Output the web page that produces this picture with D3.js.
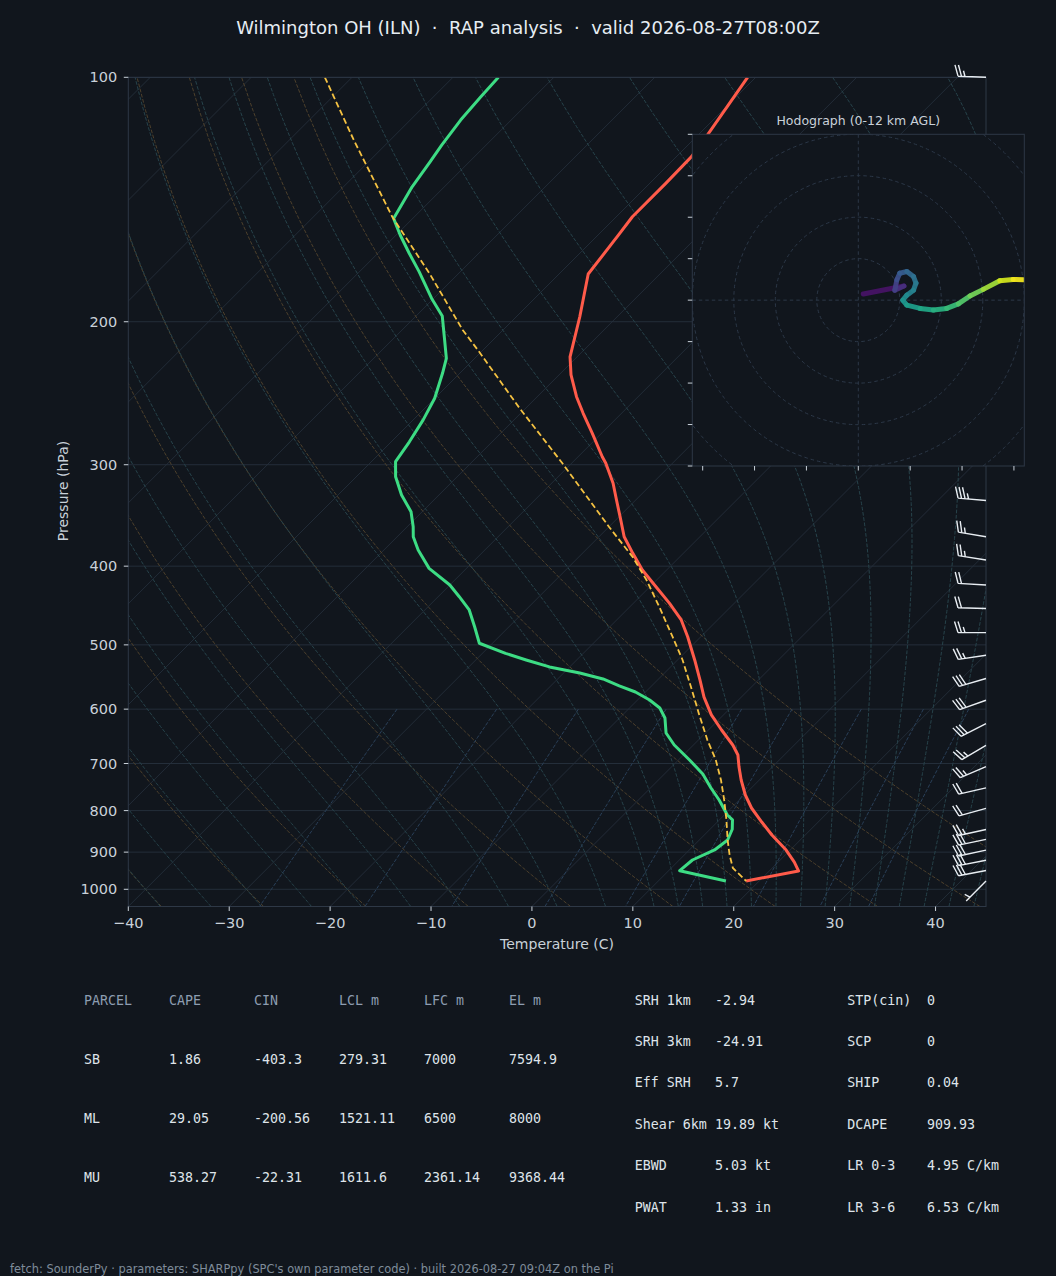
<!DOCTYPE html>
<html><head><meta charset="utf-8">
<script src="https://cdn.jsdelivr.net/npm/d3@7"></script>
<style>
html,body{margin:0;padding:0;background:#11161d;}
svg{display:block;}
text{font-family:"DejaVu Sans",sans-serif;}
.mono{font-family:"DejaVu Sans Mono",monospace;}
</style></head><body>
<svg id="chart" width="1056" height="1276"></svg>
<script>
// ---------------- DATA ----------------
const titleText = "Wilmington OH (ILN)  ·  RAP analysis  ·  valid 2026-08-27T08:00Z";
const footerText = "fetch: SounderPy · parameters: SHARPpy (SPC's own parameter code) · built 2026-08-27 09:04Z on the Pi";

const yTicks = [100,200,300,400,500,600,700,800,900,1000];
const xTicks = [-40,-30,-20,-10,0,10,20,30,40];

const tempP = [100,117.4,125.3,135.1,148.5,155.7,174.7,197.2,220.9,232.6,247.4,259.3,274.5,293.3,298.8,316.2,331.6,347.6,368.0,385.7,404.4,424.0,444.5,465.9,488.6,521.9,552.3,579.8,609.9,636.5,664.2,683.3,707.0,733.5,765.4,794.1,826.3,857.4,894.7,925.7,949.4,976.8];
const tempT = [-60.8,-59.1,-58.5,-58.4,-58.4,-58.0,-57.1,-53.7,-50.7,-48.8,-46.1,-43.8,-40.9,-37.6,-36.6,-33.9,-31.9,-29.9,-27.5,-25.0,-22.4,-19.4,-16.4,-13.6,-11.3,-8.3,-5.8,-3.7,-1.2,1.3,3.9,5.4,6.7,8.2,10.1,12.0,14.4,16.7,19.6,21.6,22.9,18.7];

const dewP = [100,105.7,112.9,121.2,127.0,136.4,149.2,156.4,164.7,173.5,187.2,196.8,210.6,221.9,231.5,248.5,264.2,281.1,297.4,310.4,326.9,342.8,357.7,368.0,382.1,402.5,421.9,436.2,452.9,475.0,497.7,512.2,521.9,532.3,541.5,550.8,561.8,571.5,584.6,598.0,615.2,642.0,664.2,693.0,721.1,750.3,776.3,810.1,821.5,843.5,869.5,894.5,920.3,948.7,976.8];
const dewT = [-85.5,-85.3,-85.0,-84.4,-83.9,-83.2,-81.9,-79.6,-76.9,-74.1,-70.2,-67.4,-64.8,-62.8,-61.7,-60.0,-59.0,-58.2,-57.6,-56.1,-53.7,-51.1,-49.4,-48.4,-46.6,-43.7,-40.0,-37.9,-35.6,-33.4,-31.3,-27.7,-25.0,-22.0,-18.4,-15.5,-13.2,-11.0,-8.8,-7.0,-5.5,-3.9,-1.9,1.1,3.8,6.0,8.0,10.3,11.3,12.2,12.8,12.5,11.3,11.1,16.7];

const parcelP = [100,119.5,148.5,175.0,204.7,217.8,255.6,298.8,357.7,389.4,416.0,448.7,488.6,521.9,568.3,609.9,655.0,693.0,733.5,776.3,821.5,869.5,907.6,941.4,976.8];
const parcelT = [-102.7,-93.6,-82.2,-72.7,-64.0,-60.2,-50.6,-40.9,-30.0,-24.7,-21.0,-17.1,-12.8,-9.5,-5.6,-2.4,0.9,3.7,6.2,8.5,10.7,12.8,14.5,16.1,18.7];

// wind barbs (kt)
const barbP = [100,332,368,393,422,451,483,515,550,585,625,665,706,750,795,844,868,895,921,948,977];
const barbU = [25,34.9,24.7,24.7,20.0,20.0,25.0,24.7,28.8,28.2,26.7,21.6,22.9,19.5,19.3,24.4,29.3,29.3,29.4,29.4,3.5];
const barbV = [-1,-2.9,-4.1,-3.9,-1.2,-0.5,0,3.7,8.5,10.1,13.6,12.7,10.0,4.5,5.3,5.4,6.2,6.2,5.7,5.7,3.5];

// hodograph (kt, height km AGL)
const hodoU = [1.2,11.0,8.8,9.3,10.0,11.7,13.3,13.9,13.3,11.7,10.7,11.7,14.9,18.1,21.3,24.1,26.9,30.1,34.1,37.3,39.8];
const hodoV = [1.5,3.4,2.4,4.9,6.5,6.9,5.7,4.1,2.4,1.2,0.0,-1.2,-2.0,-2.4,-2.0,-0.9,1.0,2.6,4.7,5.0,4.9];
const hodoH = [0,1.2,2.0,2.6,3.2,3.7,4.2,4.7,5.0,5.5,6.0,6.4,6.8,7.3,7.8,8.4,9.1,9.8,10.8,11.5,12.0];
const hodoRings = [10,20,30,40,50,60];
const hodoXTicks = [-37.5,-25,-12.5,0,12.5,25,37.5];
const hodoYTicks = [-40,-30,-20,-10,0,10,20,30,40];

// parameter tables
const parcelHeader = ["PARCEL","CAPE","CIN","LCL m","LFC m","EL m"];
const parcelRows = [
  ["SB","1.86","-403.3","279.31","7000","7594.9"],
  ["ML","29.05","-200.56","1521.11","6500","8000"],
  ["MU","538.27","-22.31","1611.6","2361.14","9368.44"]
];
const paramLabels1 = ["SRH 1km","SRH 3km","Eff SRH","Shear 6km","EBWD","PWAT"];
const paramValues1 = ["-2.94","-24.91","5.7","19.89 kt","5.03 kt","1.33 in"];
const paramLabels2 = ["STP(cin)","SCP","SHIP","DCAPE","LR 0-3","LR 3-6"];
const paramValues2 = ["0","0","0.04","909.93","4.95 C/km","6.53 C/km"];

// background reference lines (thermodynamic diagram)
const dryT0 = d3.range(-40, 51, 10);
const moistT0 = d3.range(-50, 10.1, 5).concat(d3.range(12.5, 45.1, 2.5));
const mixRatios = [0.0004,0.001,0.002,0.004,0.007,0.01,0.016,0.024,0.032];

// ---------------- CHART ----------------
const BG = '#11161d', FRAME = '#2e3846', TXT = '#c9d1d9';
const svg = d3.select('#chart');
svg.append('rect').attr('width',1056).attr('height',1276).attr('fill',BG);

const L=128.3, R=986, TOP=77.3, B=906.5;
const yS = d3.scaleLog().domain([1050,100]).range([B,TOP]);
const xS = d3.scaleLinear().domain([-40,45]).range([L,R]);
const sx = (t,p) => xS(t) + (B - yS(p));
const skewLine = d3.line().x(d=>sx(d[1],d[0])).y(d=>yS(d[0]));

const defs = svg.append('defs');
defs.append('clipPath').attr('id','plotClip').append('rect')
  .attr('x',L).attr('y',TOP).attr('width',R-L).attr('height',B-TOP);
const plot = svg.append('g').attr('clip-path','url(#plotClip)');

// isobars
plot.selectAll('line.isobar').data(yTicks).join('line').attr('class','isobar')
  .attr('x1',L).attr('x2',R).attr('y1',d=>yS(d)).attr('y2',d=>yS(d))
  .attr('stroke','#242e3a').attr('stroke-width',1);
// isotherms
plot.selectAll('line.isotherm').data(d3.range(-160,50,10)).join('line').attr('class','isotherm')
  .attr('x1',d=>sx(d,1050)).attr('y1',B).attr('x2',d=>sx(d,100)).attr('y2',TOP)
  .attr('stroke','#252f3b').attr('stroke-width',0.9);

// dry adiabats
const pGrid = d3.range(1050, 99, -10);
dryT0.forEach(t0=>{
  const th = t0 + 273.15;
  const pts = pGrid.map(p=>[p, th*Math.pow(p/1000,0.2857) - 273.15]);
  plot.append('path').attr('d',skewLine(pts)).attr('fill','none')
    .attr('stroke','#4d402c').attr('stroke-width',1).attr('stroke-dasharray','3.7,1.6');
});

// moist adiabats
const Rd=287.04749, Cp=1004.6662, Lv=2.50084e6, EPS=0.6219569;
function es(Tk){const tc=Tk-273.15; return 6.112*Math.exp(17.67*tc/(tc+243.5));}
function grad(p,Tk){const e=es(Tk); const rs=EPS*e/Math.max(p-e,1e-3);
  return ((Rd*Tk+Lv*rs)/(Cp+(Lv*Lv*rs*EPS/(Rd*Tk*Tk))))/p;}
function rk4(p,T,dp){const k1=grad(p,T),k2=grad(p+dp/2,T+dp*k1/2),k3=grad(p+dp/2,T+dp*k2/2),k4=grad(p+dp,T+dp*k3);
  return T+dp*(k1+2*k2+2*k3+k4)/6;}
moistT0.forEach(t0=>{
  const down=[[1000,t0]]; let T=t0+273.15;
  for(let p=1000;p<1050;p+=5){T=rk4(p,T,5); down.push([p+5,T-273.15]);}
  const up=[]; T=t0+273.15;
  for(let p=1000;p>100;p-=5){T=rk4(p,T,-5); up.push([p-5,T-273.15]);}
  const pts=down.reverse().concat(up);
  plot.append('path').attr('d',skewLine(pts)).attr('fill','none')
    .attr('stroke','#27434b').attr('stroke-width',1).attr('stroke-dasharray','3.7,1.6');
});

// mixing ratio lines
const pMix = d3.range(600, 1051, 10);
mixRatios.forEach(w=>{
  const pts = pMix.map(p=>{const e=p*w/(EPS+w); const a=Math.log(e/6.112); return [p, 243.5*a/(17.67-a)];});
  plot.append('path').attr('d',skewLine(pts)).attr('fill','none')
    .attr('stroke','#2a4059').attr('stroke-width',1).attr('stroke-dasharray','3.7,1.6');
});

// profiles
const tempPts = tempP.map((p,i)=>[p,tempT[i]]);
const dewPts = dewP.map((p,i)=>[p,dewT[i]]);
const parcelPts = parcelP.map((p,i)=>[p,parcelT[i]]);
plot.append('path').attr('d',skewLine(tempPts)).attr('fill','none')
  .attr('stroke','#ff5b4a').attr('stroke-width',3).attr('stroke-linejoin','round');
plot.append('path').attr('d',skewLine(dewPts)).attr('fill','none')
  .attr('stroke','#3ddc84').attr('stroke-width',3).attr('stroke-linejoin','round');
plot.append('path').attr('d',skewLine(parcelPts)).attr('fill','none')
  .attr('stroke','#f5c242').attr('stroke-width',1.8).attr('stroke-dasharray','6,3');

// frame
svg.append('rect').attr('x',L).attr('y',TOP).attr('width',R-L).attr('height',B-TOP)
  .attr('fill','none').attr('stroke',FRAME).attr('stroke-width',1);

// axes ticks & labels
const yAx = svg.append('g');
yTicks.forEach(p=>{
  yAx.append('line').attr('x1',L-4.5).attr('x2',L).attr('y1',yS(p)).attr('y2',yS(p)).attr('stroke',TXT).attr('stroke-width',1);
  yAx.append('text').attr('x',L-11).attr('y',yS(p)).attr('text-anchor','end').attr('dominant-baseline','central')
    .attr('font-size',14.5).attr('fill',TXT).text(p);
});
const xAx = svg.append('g');
xTicks.forEach(t=>{
  xAx.append('line').attr('x1',xS(t)).attr('x2',xS(t)).attr('y1',B).attr('y2',B+4.5).attr('stroke',TXT).attr('stroke-width',1);
  xAx.append('text').attr('x',xS(t)).attr('y',922.5).attr('text-anchor','middle').attr('dominant-baseline','central')
    .attr('font-size',14.5).attr('fill',TXT).text(String(t).replace('-','\u2212'));
});
svg.append('text').attr('x',557).attr('y',943.5).attr('text-anchor','middle').attr('dominant-baseline','central')
  .attr('font-size',14).attr('fill',TXT).text('Temperature (C)');
svg.append('text').attr('transform','translate(63,491) rotate(-90)').attr('text-anchor','middle').attr('dominant-baseline','central')
  .attr('font-size',14).attr('fill',TXT).text('Pressure (hPa)');

// title
svg.append('text').attr('x',528).attr('y',27).attr('text-anchor','middle').attr('dominant-baseline','central')
  .attr('font-size',18).attr('fill','#e6edf3').style('white-space','pre').text(titleText);

// wind barbs
function barbPath(x0,y0,u,v,Ls){
  const spd=Math.hypot(u,v);
  const dx=-u/spd, dy=v/spd, fx=-dy, fy=dx;
  let s=Math.round(spd/5)*5;
  const flags=Math.floor(s/50); s-=flags*50;
  const full=Math.floor(s/10); s-=full*10;
  const half=s>=5;
  const sp=0.125*Ls, fh=0.4*Ls, fw=0.25*Ls;
  const pt=(a,b)=>[x0+dx*a+fx*b, y0+dy*a+fy*b];
  let d=`M${x0},${y0}L${pt(Ls,0).join(',')}`;
  let off=Ls;
  for(let i=0;i<full;i++){const b0=pt(off,0), t=pt(off+fw/2,fh); d+=`M${b0.join(',')}L${t.join(',')}`; off-=sp;}
  if(half){ if(off===Ls) off-=1.5*sp; const b0=pt(off,0), t=pt(off+fw/4,fh/2); d+=`M${b0.join(',')}L${t.join(',')}`; }
  return d;
}
const barbG = svg.append('g');
barbP.forEach((p,i)=>{
  barbG.append('path').attr('d',barbPath(R,yS(p),barbU[i],barbV[i],28))
    .attr('fill','none').attr('stroke','#e8edf2').attr('stroke-width',1.4);
});

// hodograph inset
const HX0=692.3, HX1=1024.3, HY0=134.3, HY1=466;
const hx = d3.scaleLinear().domain([-40,40]).range([HX0,HX1]);
const hy = d3.scaleLinear().domain([-40,40]).range([HY1,HY0]);
defs.append('clipPath').attr('id','hodoClip').append('rect')
  .attr('x',HX0).attr('y',HY0).attr('width',HX1-HX0).attr('height',HY1-HY0);
const hodo = svg.append('g');
hodo.append('rect').attr('x',HX0).attr('y',HY0).attr('width',HX1-HX0).attr('height',HY1-HY0).attr('fill',BG);
const hin = hodo.append('g').attr('clip-path','url(#hodoClip)');
hodoRings.forEach(r=>{
  hin.append('circle').attr('cx',hx(0)).attr('cy',hy(0)).attr('r',hx(r)-hx(0))
    .attr('fill','none').attr('stroke','#2c3848').attr('stroke-width',1).attr('stroke-dasharray','3.5,3');
});
hin.append('line').attr('x1',hx(0)).attr('x2',hx(0)).attr('y1',HY0).attr('y2',HY1)
  .attr('stroke','#2c3848').attr('stroke-width',1).attr('stroke-dasharray','3.5,3');
hin.append('line').attr('x1',HX0).attr('x2',HX1).attr('y1',hy(0)).attr('y2',hy(0))
  .attr('stroke','#2c3848').attr('stroke-width',1).attr('stroke-dasharray','3.5,3');
for(let i=0;i<hodoU.length-1;i++){
  const c = d3.interpolateViridis(((hodoH[i]+hodoH[i+1])/2)/12);
  hin.append('line').attr('x1',hx(hodoU[i])).attr('y1',hy(hodoV[i])).attr('x2',hx(hodoU[i+1])).attr('y2',hy(hodoV[i+1]))
    .attr('stroke',c).attr('stroke-width',5).attr('stroke-linecap','round').attr('stroke-opacity',0.95);
}
hodo.append('rect').attr('x',HX0).attr('y',HY0).attr('width',HX1-HX0).attr('height',HY1-HY0)
  .attr('fill','none').attr('stroke',FRAME).attr('stroke-width',1);
hodoXTicks.forEach(t=>{
  hodo.append('line').attr('x1',hx(t)).attr('x2',hx(t)).attr('y1',HY1).attr('y2',HY1+4.5).attr('stroke',TXT).attr('stroke-width',1);
});
hodoYTicks.forEach(t=>{
  hodo.append('line').attr('x1',HX0-4.5).attr('x2',HX0).attr('y1',hy(t)).attr('y2',hy(t)).attr('stroke',TXT).attr('stroke-width',1);
});
hodo.append('text').attr('x',(HX0+HX1)/2).attr('y',120).attr('text-anchor','middle').attr('dominant-baseline','central')
  .attr('font-size',12.5).attr('fill',TXT).text('Hodograph (0-12 km AGL)');

// tables
const tcolX = [84,169,254,339,424,509], trowY = [1000,1059,1118,1177];
const tbl = svg.append('g').attr('class','mono');
parcelHeader.forEach((h,j)=>{
  tbl.append('text').attr('class','mono').attr('x',tcolX[j]).attr('y',trowY[0]).attr('dominant-baseline','central')
    .attr('font-size',13.3).attr('fill','#8d9db1').text(h);
});
parcelRows.forEach((row,i)=>row.forEach((v,j)=>{
  tbl.append('text').attr('class','mono').attr('x',tcolX[j]).attr('y',trowY[i+1]).attr('dominant-baseline','central')
    .attr('font-size',13.3).attr('fill','#dfe4ea').text(v);
}));
const prowY = [1000,1041.3,1082.7,1124,1165.5,1207];
const pcolX = [634.7,715,847.3,927];
paramLabels1.forEach((lab,i)=>{
  [[lab,0],[paramValues1[i],1],[paramLabels2[i],2],[paramValues2[i],3]].forEach(([t,j])=>{
    tbl.append('text').attr('class','mono').attr('x',pcolX[j]).attr('y',prowY[i]).attr('dominant-baseline','central')
      .attr('font-size',13.3).attr('fill','#dfe4ea').style('white-space','pre').text(t);
  });
});

// footer
svg.append('text').attr('x',10).attr('y',1269).attr('dominant-baseline','central')
  .attr('font-size',11.4).attr('fill','#7f8c9a').text(footerText);
</script>
</body></html>
